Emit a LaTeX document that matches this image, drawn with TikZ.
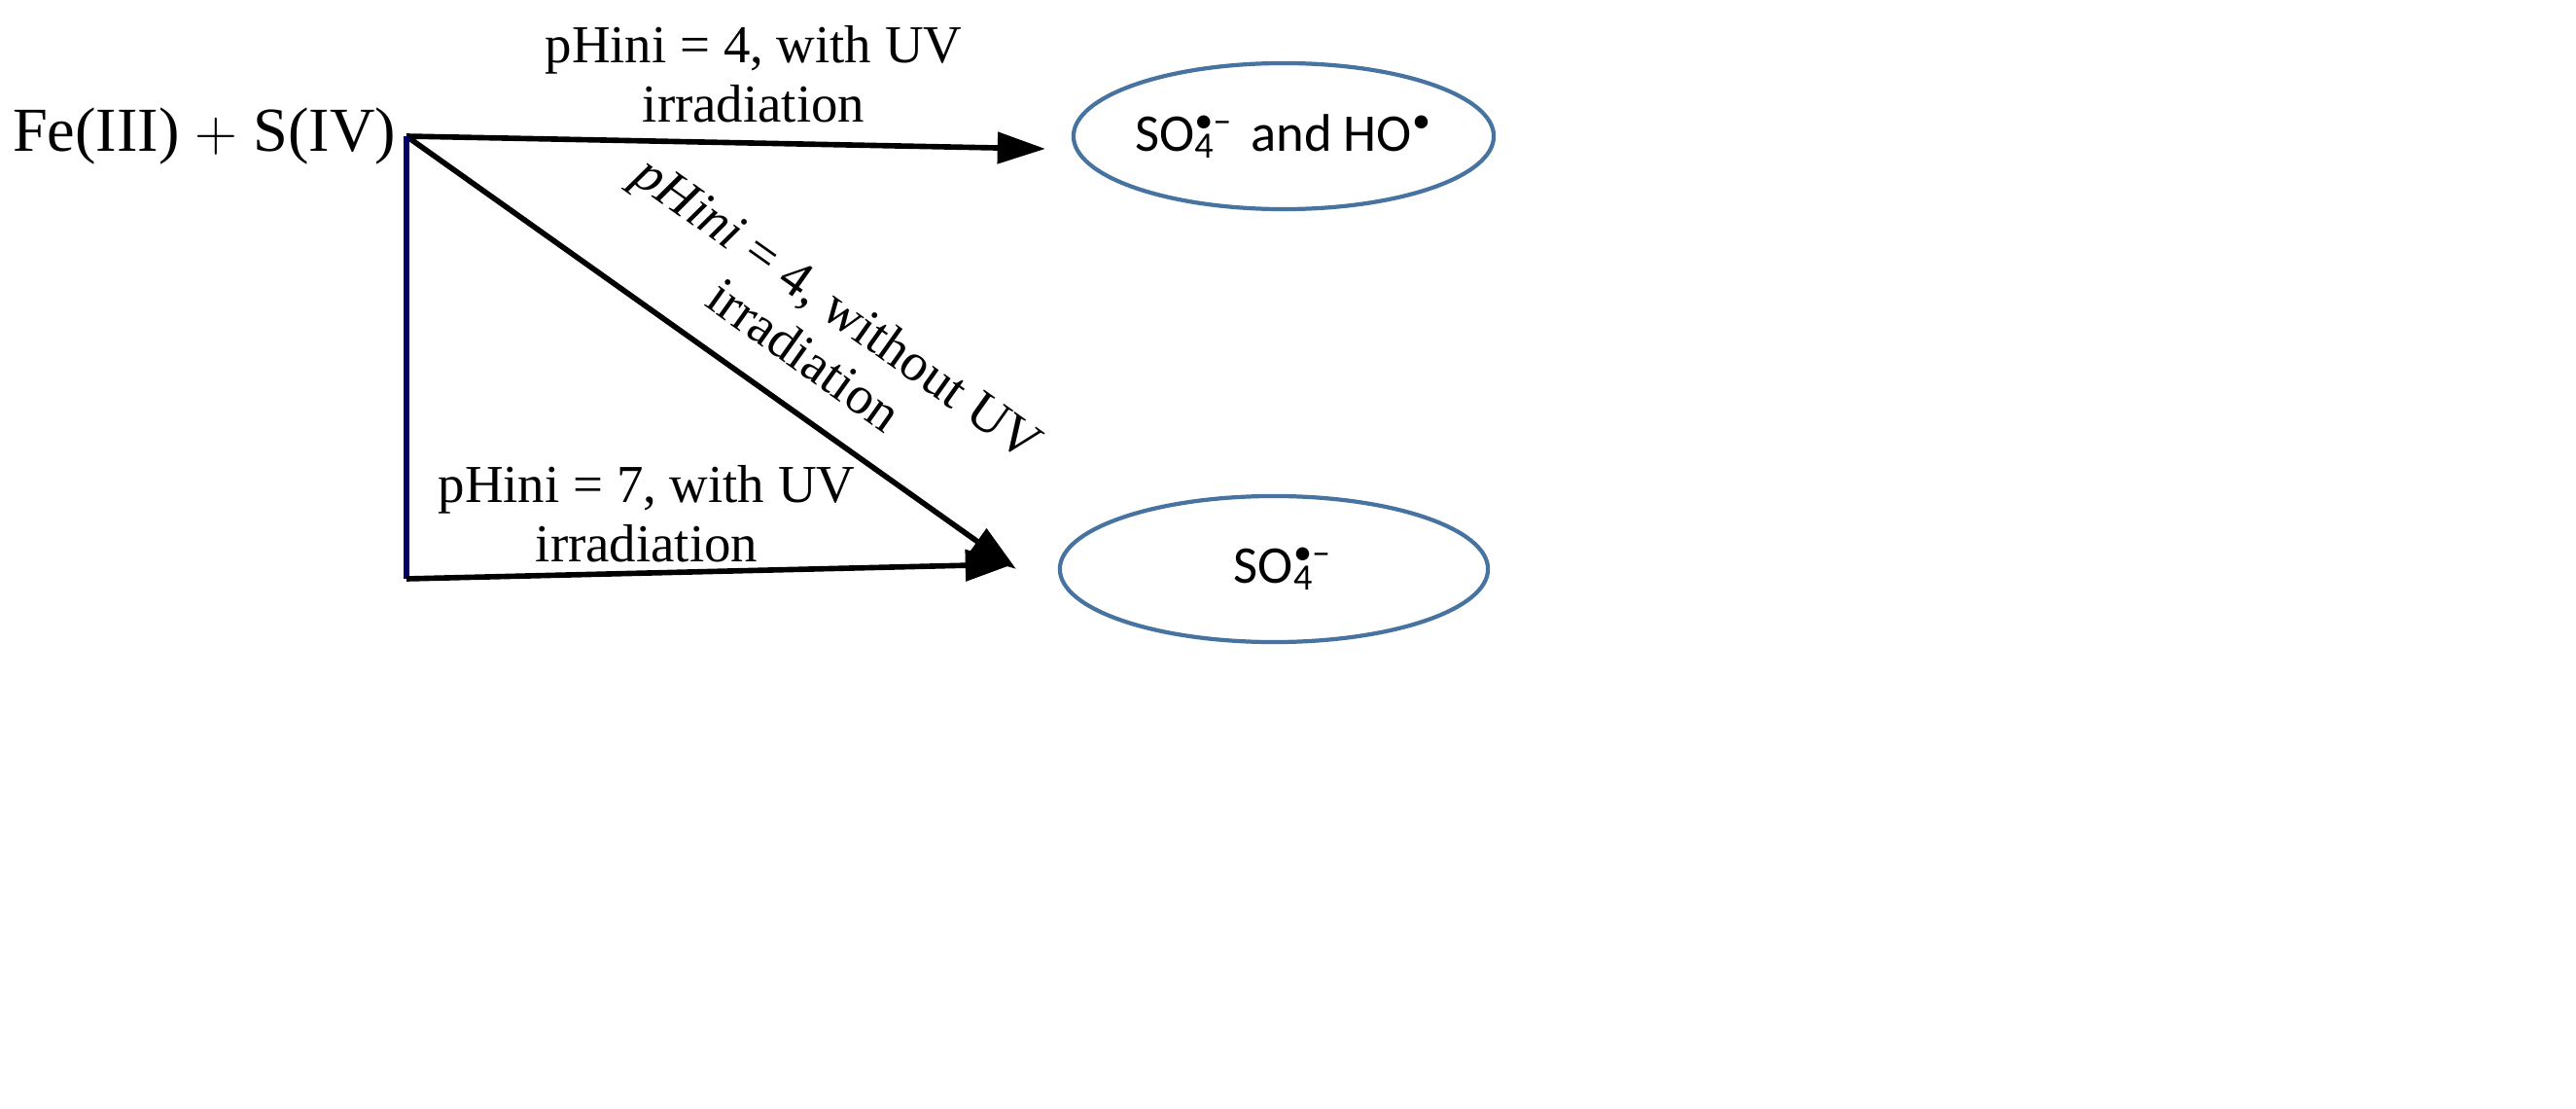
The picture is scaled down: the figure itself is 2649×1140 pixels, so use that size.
\documentclass[tikz,border=0pt]{standalone}
\usepackage{fontspec}
\setmainfont{Liberation Serif}
\newfontfamily\sansf{Carlito}
\usetikzlibrary{shapes.geometric,arrows.meta}
\definecolor{ellblue}{RGB}{70,115,160}
\begin{document}
\begin{tikzpicture}[x=0.01cm,y=-0.01cm,
  arr/.style={line width=1.6pt,-{Triangle[length=14pt,width=9pt]}},
  lab/.style={font=\fontsize{15.6}{17.2}\selectfont,align=center},
  ell/.style={draw=ellblue,line width=1.2pt,ellipse,inner sep=0pt,font=\sansf\fontsize{15.5}{17}\selectfont}]
\useasboundingbox (0,0) rectangle (2649,1140);
\node[font=\fontsize{18.3}{20}\selectfont] (fe) at (210,140) {Fe(III) $+$ S(IV)};
\coordinate (v) at (418,140);
\coordinate (b) at (418,595);
\node[ell,minimum width=4.3cm,minimum height=1.5cm] (e1) at (1320,140) {SO\rlap{\textsuperscript{•–}}\textsubscript{4}\hspace{0.45em} and HO\textsuperscript{•}};
\node[ell,minimum width=4.4cm,minimum height=1.5cm] (e2) at (1310,585) {SO\rlap{\textsuperscript{•–}}\textsubscript{4}\hspace{0.45em}};
\coordinate (t1) at (1075,153);
\coordinate (t2) at (1045,585);
\coordinate (t3) at (1042,580);
\draw[arr] (v) -- (t1);
\draw[arr] (v) -- (t2);
\draw[line width=1.6pt,draw=blue!40!black] (v) -- (b);
\draw[arr] (b) -- (t3);
\node[lab] (l1) at (775,76) {pHini = 4, with UV\\irradiation};
\node[lab,rotate=-35.4] (l2) at (845,340) {\textit{pHini} = 4, without UV\\irradiation};
\node[lab] (l3) at (665,528) {pHini = 7, with UV\\irradiation};
\end{tikzpicture}
\end{document}
